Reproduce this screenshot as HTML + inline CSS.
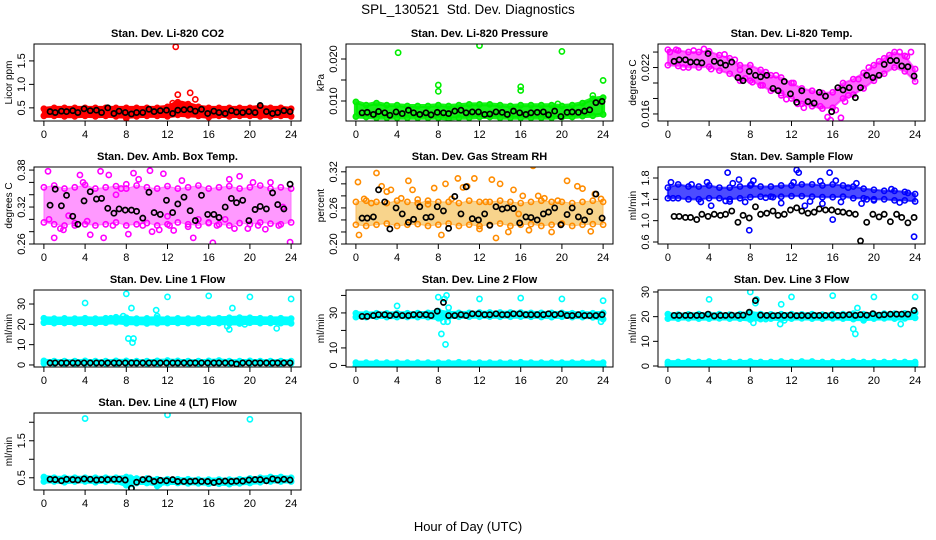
<!DOCTYPE html>
<html><head><meta charset="utf-8"><title>SPL_130521 Std. Dev. Diagnostics</title>
<style>body{margin:0;background:#fff}svg{display:block;font-family:"Liberation Sans",Arial,sans-serif}</style>
</head><body>
<svg id="chart" width="936" height="540" viewBox="0 0 936 540" xmlns="http://www.w3.org/2000/svg">
<rect width="936" height="540" fill="#fff"/>
<text x="468" y="14" text-anchor="middle" font-size="13.5">SPL_130521&#160; Std. Dev. Diagnostics</text>
<text x="468" y="531" text-anchor="middle" font-size="13">Hour of Day (UTC)</text>
</svg>
<script>
const BH=[0,1,2,3,4,5,6,7,8,9,10,11,12,13,14,15,16,17,18,19,20,21,22,23,24];
const BX=[0.6,1.1,1.7,2.2,2.8,3.3,3.9,4.5,5.1,5.6,6.2,6.8,7.3,7.9,8.5,9.0,9.6,10.2,10.7,11.3,11.9,12.5,13.0,13.6,14.2,14.7,15.3,15.9,16.5,17.0,17.6,18.2,18.7,19.3,19.9,20.5,21.0,21.6,22.2,22.7,23.3,23.9];
const xTicks=[0,4,8,12,16,20,24];

// Panel 1 CO2
const co2Lo=[.33,.33,.32,.32,.33,.32,.33,.32,.31,.32,.33,.33,.32,.35,.34,.33,.31,.33,.32,.33,.33,.32,.32,.33,.32];
const co2Hi=[.48,.5,.5,.5,.5,.5,.5,.5,.5,.5,.5,.5,.52,.62,.58,.52,.5,.5,.5,.5,.5,.52,.5,.5,.48];
const co2SX=[12.8,13,14.2,14.7,8,16,12.5,13.4];
const co2SY=[1.8,.78,.82,.68,.28,.3,.6,.58];
const co2Black=[.42,.4,.43,.42,.44,.4,.48,.44,.45,.4,.5,.38,.43,.4,.37,.4,.4,.47,.42,.44,.45,.38,.45,.46,.47,.43,.47,.38,.43,.4,.38,.44,.41,.4,.42,.4,.55,.42,.38,.4,.44,.42];
// Panel 2 pressure
const prLo=[.0063,.0062,.006,.006,.006,.006,.006,.006,.006,.0058,.006,.006,.0062,.0062,.006,.006,.006,.006,.006,.006,.0062,.0062,.0064,.0065,.0068];
const prHi=[.0098,.009,.0095,.009,.009,.0088,.0088,.0088,.009,.0088,.009,.0092,.0092,.0092,.009,.0088,.009,.009,.009,.009,.0088,.009,.0095,.0105,.0108];
const prSX=[4.1,8,8,12,16,16,20,24,23,19.6];
const prSY=[.0215,.0138,.0123,.0232,.0134,.0125,.0218,.0149,.0113,.0093];
const prBlack=[.0072,.0073,.0068,.0075,.0072,.0066,.0074,.007,.0078,.0072,.0068,.0072,.0067,.0073,.0072,.007,.0076,.0078,.0072,.0074,.0074,.0068,.0069,.0074,.0073,.0068,.0076,.0072,.0068,.0072,.0073,.0074,.0067,.0076,.0063,.0073,.0074,.0073,.0076,.0079,.0096,.0099];
// Panel 3 temp
const tLo=[.0223,.0222,.0220,.0220,.0221,.0216,.0212,.0203,.0203,.0197,.0190,.0187,.0180,.0173,.0170,.0167,.0168,.0180,.0185,.0193,.0203,.0212,.0220,.0215,.0202];
const tHi=[.0243,.0242,.0240,.0240,.0241,.0236,.0232,.0223,.0223,.0217,.0210,.0207,.0200,.0193,.0190,.0187,.0188,.0200,.0205,.0213,.0223,.0232,.0240,.0235,.0218];
const tSX=[0.2,0.8,1.5,2.5,3.5,4.2,5.5,6.5,7.5,8.2,9.5,10.5,11,11.5,12.2,13.2,14,14.8,15.5,15.8,16.3,16.8,17.5,18.5,19.5,20.5,21.5,22.5,23.2,23.6,7,9.2,12.6,17.2];
const tSY=[.0240,.0243,.0220,.0242,.0244,.0218,.0237,.0230,.0206,.0201,.0214,.0210,.0184,.0179,.0200,.0168,.0190,.0170,.0156,.0152,.0165,.0155,.0184,.0205,.0220,.0228,.0236,.0240,.0234,.0240,.0217,.0197,.0173,.0176];
const tBlack=[.0228,.0230,.0230,.0227,.0227,.0226,.0238,.0228,.0226,.0223,.0227,.0207,.0203,.0215,.0210,.0208,.0210,.0193,.0190,.0202,.0186,.0175,.0190,.0176,.0174,.0188,.0183,.0163,.0194,.0191,.0194,.0181,.0194,.0210,.0207,.0210,.0224,.0229,.0229,.0222,.0221,.0209];
// Panel 4 amb box temp
const abLo=[.295,.292,.29,.294,.292,.29,.292,.295,.29,.292,.294,.29,.292,.295,.292,.29,.294,.292,.29,.294,.292,.295,.293,.292,.295];
const abHi=[.352,.355,.35,.352,.356,.35,.352,.354,.35,.355,.352,.35,.354,.35,.352,.355,.35,.352,.354,.35,.352,.355,.35,.352,.35];
const abSX=[0.4,0.5,1.0,1.6,1.9,2.4,3.0,3.5,4.2,4.5,5.5,5.8,6.3,6.7,7.5,8.0,8.2,8.7,9.2,9.6,10.3,10.5,11.2,11.6,12.2,12.6,13.4,14.0,14.5,15.0,16.0,16.4,16.8,17.6,18.0,18.5,19.0,19.8,20.3,20.8,21.5,22.0,22.8,23.2,23.9,3.8,7.0,12.0];
const abSY=[.378,.300,.27,.285,.283,.306,.29,.372,.297,.275,.378,.27,.372,.29,.35,.357,.276,.375,.365,.290,.379,.28,.283,.374,.290,.282,.363,.288,.27,.30,.295,.262,.29,.30,.365,.285,.37,.285,.36,.29,.284,.36,.29,.32,.263,.36,.34,.305];
const abBlack=[.323,.349,.322,.339,.305,.292,.330,.345,.333,.334,.318,.310,.317,.315,.315,.313,.302,.344,.311,.308,.331,.311,.325,.336,.314,.298,.339,.308,.308,.303,.320,.334,.327,.331,.298,.316,.321,.317,.343,.324,.317,.357];
// Panel 5 RH
const rhLo=[.232,.23,.232,.234,.23,.232,.233,.23,.232,.234,.23,.232,.23,.232,.234,.23,.232,.233,.23,.232,.234,.23,.232,.233,.232];
const rhHi=[.27,.272,.27,.268,.272,.27,.268,.272,.27,.27,.268,.272,.27,.27,.272,.27,.268,.27,.272,.27,.27,.268,.27,.272,.27];
const rhSX=[0.2,0.3,0.8,1.5,2.0,2.5,3.0,3.4,4.4,5.1,5.5,6.0,7.0,7.6,8.3,8.7,9.3,9.9,10.4,10.8,11.5,12.0,12.6,13.2,13.6,14.0,14.8,15.3,15.8,16.2,16.8,17.2,17.7,18.3,19.0,19.6,20.5,21.5,22.0,22.8,23.2,23.8];
const rhSY=[.303,.215,.275,.268,.318,.296,.287,.290,.276,.305,.29,.274,.266,.293,.215,.30,.275,.309,.294,.296,.309,.225,.27,.307,.21,.30,.22,.29,.25,.28,.223,.33,.28,.276,.22,.272,.305,.296,.292,.221,.283,.275];
const rhBlack=[.243,.243,.245,.29,.27,.225,.26,.25,.236,.241,.262,.244,.245,.262,.255,.226,.279,.25,.295,.242,.24,.25,.231,.262,.258,.26,.259,.235,.245,.244,.24,.25,.253,.26,.232,.249,.26,.245,.24,.254,.283,.243];
// Panel 6 sample flow
const sfLo=[1.42,1.42,1.4,1.4,1.42,1.42,1.4,1.42,1.44,1.45,1.45,1.45,1.46,1.46,1.45,1.44,1.44,1.45,1.42,1.42,1.4,1.4,1.38,1.38,1.36];
const sfHi=[1.62,1.68,1.64,1.64,1.66,1.62,1.62,1.64,1.66,1.64,1.64,1.66,1.66,1.68,1.68,1.66,1.68,1.66,1.64,1.6,1.58,1.56,1.56,1.54,1.5];
const sfSX=[0.3,0.5,2.3,3.2,3.8,4.2,5.6,5.8,6.0,6.3,6.9,7.5,7.9,8.1,8.3,9.5,10.2,11,12.2,12.5,12.7,13.3,13.8,14.8,15.0,15.7,16.0,16.3,16.8,17.5,18.3,18.8,19.3,20.0,21.7,22.5,23.3,23.9];
const sfSY=[1.72,1.42,1.68,1.35,1.72,1.28,1.37,1.9,1.36,1.7,1.77,1.35,0.82,1.68,1.75,1.43,1.44,1.33,1.72,1.95,1.9,1.28,1.36,1.74,1.32,1.9,1.02,1.75,1.35,1.62,1.7,1.32,1.4,1.38,1.59,1.34,1.52,0.7];
const sfBlack=[1.08,1.08,1.06,1.06,1.02,1.12,1.08,1.12,1.1,1.12,1.18,0.97,1.1,1.05,1.26,1.12,1.14,1.18,1.1,1.12,1.2,1.24,1.18,1.14,1.16,1.22,1.2,1.2,1.17,1.16,1.14,1.12,0.62,0.97,1.12,1.07,1.12,0.98,1.12,1.06,0.96,1.06];
// Panel 7 line 1
const l1Lo=[20.8,20.6,20.7,20.6,20.7,20.6,20.8,21,20.5,20.6,20.4,20.5,20.6,20.7,20.6,20.6,20.7,20.6,20.5,20.4,20.8,20.6,20.7,20.6,20.5];
const l1Hi=[23,22.8,22.9,22.8,23,22.8,23,23.5,23.2,22.8,22.9,23,22.8,22.9,22.8,22.9,22.8,23,23.2,23.3,23.2,23,22.9,23,22.8];
const l1Lo2=[0.8,0.8,0.8,0.8,0.8,0.8,0.8,0.8,0.8,0.8,0.8,0.8,0.8,0.8,0.8,0.8,0.8,0.8,0.8,0.8,0.8,0.8,0.8,0.8,0.8];
const l1Hi2=[2,1.9,1.9,1.9,2,1.9,1.9,2,2,1.9,1.9,2,2.2,2,1.9,1.9,2,2.2,1.9,1.9,2,1.9,1.9,1.9,1.9];
const l1SX=[4.0,7.7,8.0,8.2,8.5,8.6,8.7,10.9,11.0,12.0,16.0,17.8,18.0,18.3,20.0,22.6,24.0,6.5,14,19.5];
const l1SY=[30.5,24,35,13,28,11,13,27,24,33.5,34,19,17.5,28,33.5,18,32.5,23,22,20];
const l1Black=[1,1,1,1,1,1,1,1,1,1,1,1,1,1,1,1,1,1,1,1,1,1,1,1,1,1,1,1,1,1,1,1,0.5,1,1,1,1,1,1,1,1,1];
// Panel 8 line 2
const l2Lo=[27.6,27.6,27.8,27.6,27.6,27.7,27.6,27.6,27,27.7,27.8,27.8,27.8,27.9,27.8,27.8,27.9,27.8,27.7,27.6,27.8,27.6,27.6,27.5,26.5];
const l2Hi=[29.8,29.6,29.8,29.7,29.8,29.8,29.9,30,31,30,30,30,30.2,30.2,30.2,30.2,30.2,30,30,30,30,29.8,29.8,29.8,30];
const l2Lo2=[-0.4,-0.4,-0.4,-0.4,-0.4,-0.4,-0.4,-0.4,-0.4,-0.4,-0.4,-0.4,-0.4,-0.4,-0.4,-0.4,-0.4,-0.4,-0.4,-0.4,-0.4,-0.4,-0.4,-0.4,-0.4];
const l2Hi2=[1.6,1.6,1.6,1.6,1.6,1.6,1.6,1.6,1.6,1.6,1.8,1.6,1.6,1.6,1.6,1.6,1.8,1.6,1.6,1.6,1.6,1.6,1.6,1.6,1.6];
const l2SX=[4.0,8.0,8.3,8.5,8.6,8.7,8.8,8.9,12.0,16.0,20.0,23.8,24.0,8.2,9.0];
const l2SY=[34,39,18,25,38,12,40,25,38,38.5,38,25,37,27,33];
const l2Black=[28,28,28.5,29,29,28.5,29,28.5,28.5,29,29,29,28.5,31,36,28.5,28.5,29,28.5,29.5,29.5,29,29,29.5,29,29,29.5,29.5,29,29,29,29,29.5,29,29.5,28.5,28.5,29,28.5,28.5,28.5,29];
// Panel 9 line 3
const l3Lo=[19.2,19.2,19.3,19.2,19.2,19.3,19.2,19.2,18.8,19,19.2,19,19.2,19.3,19.2,19.2,19.3,19.2,19,19,19.2,19.3,19.2,19.3,19.5];
const l3Hi=[21,20.8,20.9,21,20.9,21,20.8,21,21.5,21,20.9,21,21,20.9,21,20.8,21,21,21.2,21,21,21.2,21.2,21.3,21.5];
const l3Lo2=[0.6,0.6,0.6,0.6,0.6,0.6,0.6,0.6,0.6,0.6,0.6,0.6,0.6,0.6,0.6,0.6,0.6,0.6,0.6,0.6,0.6,0.6,0.6,0.6,0.6];
const l3Hi2=[1.6,1.6,1.8,1.6,1.8,1.6,1.6,1.6,1.8,1.6,1.6,1.8,1.6,1.8,1.8,1.6,1.6,1.6,1.8,1.6,1.6,1.6,1.6,1.6,1.6];
const l3SX=[4.0,8.0,8.3,8.5,8.6,10.9,11.0,11.3,12.0,16.0,18.0,18.2,18.4,20.0,22.6,24.0,9.5,19];
const l3SY=[27,30,17.5,25.5,27,17,25,18.5,28,28.5,15,13,23.5,28,17,28,19,18.5];
const l3Black=[20.5,20.5,20.5,20.5,20.5,20.5,21,20.3,20.5,20.5,20.6,20.5,20.6,21.8,26.5,20.6,20.5,20.4,20.5,20.5,20.6,20.4,20.5,20.4,20.5,20.5,20.5,20.6,20.5,20.6,20.8,20.5,20.8,20.6,21.2,20.6,20.8,21,21,21,21,22.5];
// Panel 10 line 4
const l4Lo=[0.4,0.4,0.38,0.4,0.4,0.38,0.4,0.4,0.3,0.36,0.36,0.32,0.36,0.36,0.35,0.35,0.34,0.34,0.33,0.35,0.36,0.38,0.4,0.4,0.4];
const l4Hi=[0.52,0.5,0.5,0.5,0.5,0.5,0.5,0.5,0.52,0.48,0.48,0.46,0.46,0.46,0.46,0.45,0.45,0.45,0.45,0.46,0.48,0.5,0.52,0.52,0.5];
const l4SX=[4.0,12.0,20.0,8.5,11,11.2,8.4];
const l4SY=[2.1,2.2,2.08,0.2,0.28,0.32,0.5];
const l4Black=[.46,.45,.42,.46,.45,.44,.47,.46,.44,.45,.45,.46,.46,.44,.22,.38,.45,.47,.4,.43,.42,.45,.4,.4,.4,.41,.4,.4,.37,.4,.41,.4,.41,.41,.44,.45,.45,.42,.47,.44,.46,.44];

const NS="http://www.w3.org/2000/svg";
const svg=document.getElementById('chart');
function mk(tag,attrs,parent){const e=document.createElementNS(NS,tag);for(const k in attrs)e.setAttribute(k,attrs[k]);(parent||svg).appendChild(e);return e;}

const COLX=[34,346,658], ROWY=[44,167,290,413], PW=267, PH=77;
const panels=[
 {t:"Stan. Dev. Li-820 CO2",yl:"Licor ppm",c:0,r:0,y0:0.22,y1:1.86,ticks:[0.5,1.0,1.5],labs:["0.5","1.0","1.5"],col:"#ff0000",bands:[[co2Lo,co2Hi]],sx:co2SX,sy:co2SY,bk:co2Black},
 {t:"Stan. Dev. Li-820 Pressure",yl:"kPa",c:1,r:0,y0:0.00524,y1:0.02357,ticks:[0.010,0.015,0.020],labs:["0.010","","0.020"],col:"#00ee00",bands:[[prLo,prHi]],sx:prSX,sy:prSY,bk:prBlack,op:0.9},
 {t:"Stan. Dev. Li-820 Temp.",yl:"degrees C",c:2,r:0,y0:0.01509,y1:0.02504,ticks:[0.016,0.018,0.020,0.022,0.024],labs:["0.016","","","0.022",""],col:"#ff00ff",bands:[[tLo,tHi]],sx:tSX,sy:tSY,bk:tBlack,op:0.6,sw:2},
 {t:"Stan. Dev. Amb. Box Temp.",yl:"degrees C",c:0,r:1,y0:0.26,y1:0.385,ticks:[0.26,0.28,0.30,0.32,0.34,0.36,0.38],labs:["0.26","","","0.32","","","0.38"],col:"#ff00ff",bands:[[abLo,abHi]],sx:abSX,sy:abSY,bk:abBlack,op:0.4,sw:1},
 {t:"Stan. Dev. Gas Stream RH",yl:"percent",c:1,r:1,y0:0.20,y1:0.328,ticks:[0.20,0.22,0.24,0.26,0.28,0.30,0.32],labs:["0.20","","","0.26","","","0.32"],col:"#ff8c00",fill:"#f0a000",bands:[[rhLo,rhHi]],sx:rhSX,sy:rhSY,bk:rhBlack,op:0.45,sw:1},
 {t:"Stan. Dev. Sample Flow",yl:"ml/min",c:2,r:1,y0:0.5625,y1:2.006,ticks:[0.6,1.0,1.4,1.8],labs:["0.6","1.0","1.4","1.8"],col:"#0000ff",bands:[[sfLo,sfHi]],sx:sfSX,sy:sfSY,bk:sfBlack,op:0.7,sw:2},
 {t:"Stan. Dev. Line 1 Flow",yl:"ml/min",c:0,r:2,y0:-1,y1:36.9,ticks:[0,10,20,30],labs:["0","10","20","30"],col:"#00ffff",bands:[[l1Lo,l1Hi],[l1Lo2,l1Hi2]],sx:l1SX,sy:l1SY,bk:l1Black},
 {t:"Stan. Dev. Line 2 Flow",yl:"ml/min",c:1,r:2,y0:-0.9,y1:43.1,ticks:[0,10,20,30,40],labs:["0","10","","30",""],col:"#00ffff",bands:[[l2Lo,l2Hi],[l2Lo2,l2Hi2]],sx:l2SX,sy:l2SY,bk:l2Black},
 {t:"Stan. Dev. Line 3 Flow",yl:"ml/min",c:2,r:2,y0:-0.4,y1:30.8,ticks:[0,10,20,30],labs:["0","10","20","30"],col:"#00ffff",bands:[[l3Lo,l3Hi],[l3Lo2,l3Hi2]],sx:l3SX,sy:l3SY,bk:l3Black},
 {t:"Stan. Dev. Line 4 (LT) Flow",yl:"ml/min",c:0,r:3,y0:0.17,y1:2.25,ticks:[0.5,1.0,1.5,2.0],labs:["0.5","","1.5",""],col:"#00ffff",bands:[[l4Lo,l4Hi]],sx:l4SX,sy:l4SY,bk:l4Black}
];

panels.forEach((p,i)=>{
  const L=COLX[p.c], T=ROWY[p.r];
  const X=h=>L+(h+0.96)/25.92*PW;
  const Y=v=>T+PH-(v-p.y0)/(p.y1-p.y0)*PH;
  const g=mk('g',{});
  
  
  const cp=mk('clipPath',{id:'cp'+i},g); mk('rect',{x:L,y:T,width:PW,height:PH},cp);
  const data=mk('g',{'clip-path':'url(#cp'+i+')'},g);
  p.bands.forEach((b,bi)=>{
    let pts=BH.map((h,k)=>X(h)+','+Y(b[1][k])).concat(BH.slice().reverse().map((h,k)=>X(h)+','+Y(b[0][BH.length-1-k])));
    const poly=mk('polygon',{points:pts.join(' '),fill:p.fill||p.col,'fill-opacity':p.op||1,stroke:p.col,'stroke-width':p.sw||4,'stroke-linejoin':'round','stroke-opacity':p.op||1},data);
    
    
    [0,1].forEach(e=>BH.forEach((h,k)=>{
      const c=mk('circle',{cx:X(h),cy:Y(b[e][k]),r:2.6,fill:'none',stroke:p.col,'stroke-width':1.6},data);
      
      
    }));
  });
  p.sx.forEach((h,k)=>{
    const c=mk('circle',{cx:X(h),cy:Y(p.sy[k]),r:2.6,fill:'none',stroke:p.col,'stroke-width':1.6},data);
    
    
  });
  BX.forEach((h,k)=>{
    const c=mk('circle',{cx:X(h),cy:Y(p.bk[k]),r:2.6,fill:'none',stroke:'#000','stroke-width':1.7},data);
    
    
  });
  const box=mk('rect',{x:L,y:T,width:PW,height:PH,fill:'none',stroke:'#000','stroke-width':1},g);
  
  
  xTicks.forEach(h=>{
    mk('line',{x1:X(h),x2:X(h),y1:T+PH,y2:T+PH+5,stroke:'#000'},g);
    const t=mk('text',{x:X(h),y:T+PH+17,'text-anchor':'middle','font-size':11},g);
    t.textContent=h;
    
    
  });
  p.ticks.forEach((v,k)=>{
    mk('line',{x1:L-5,x2:L,y1:Y(v),y2:Y(v),stroke:'#000'},g);
    if(p.labs[k]){
      const t=mk('text',{x:L-9,y:Y(v),'text-anchor':'middle','font-size':11,transform:'rotate(-90 '+(L-9)+' '+Y(v)+')'},g);
      t.textContent=p.labs[k];
      
      
    }
  });
  const tt=mk('text',{x:L+PW/2,y:T-7,'text-anchor':'middle','font-size':11,'font-weight':'bold'},g);
  tt.textContent=p.t;
  
  
  const yx=L-22, yy=T+PH/2;
  const yl=mk('text',{x:yx,y:yy,'text-anchor':'middle','font-size':10,transform:'rotate(-90 '+yx+' '+yy+')'},g);
  yl.textContent=p.yl;
  
  
});
</script>
</body></html>
